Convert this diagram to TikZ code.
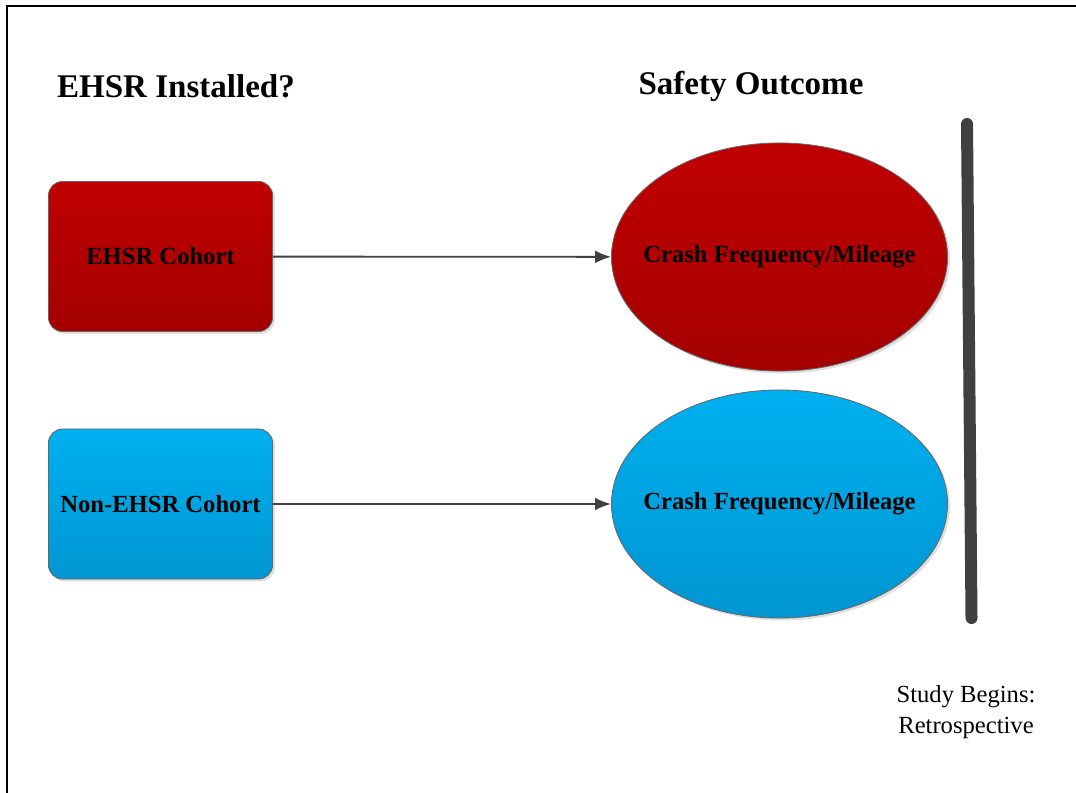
\documentclass[tikz,border=0pt]{standalone}
\usepackage{fontspec}
\setmainfont{Liberation Serif}
\usepackage{tikz}
\usetikzlibrary{shapes, arrows.meta, positioning, shadows}
\definecolor{cohortred}{HTML}{C00000}
\definecolor{cohortreddark}{HTML}{A40000}
\definecolor{cohortblue}{HTML}{00B0F0}
\definecolor{cohortbluedark}{HTML}{0096D2}
\definecolor{edgegray}{HTML}{404040}
\tikzstyle{cohort} = [draw=edgegray!80, line width=0.6pt, rectangle, rounded corners=0.35cm, minimum width=5.6cm, minimum height=3.75cm, font=\fontsize{17.5}{21}\selectfont\bfseries, drop shadow={opacity=0.25, shadow xshift=0.06cm, shadow yshift=-0.06cm}]
\tikzstyle{outcome} = [draw=edgegray!80, line width=0.6pt, ellipse, inner sep=0pt, minimum width=8.4cm, minimum height=5.7cm, font=\fontsize{17.5}{21}\selectfont\bfseries, drop shadow={opacity=0.25, shadow xshift=0.06cm, shadow yshift=-0.06cm}]
\tikzstyle{heading} = [font=\fontsize{23.5}{28}\selectfont\bfseries]
\tikzstyle{redfill} = [top color=cohortred, bottom color=cohortreddark]
\tikzstyle{bluefill} = [top color=cohortblue, bottom color=cohortbluedark]
\newcommand{\crashtext}{\makebox[0pt]{Crash Frequency/Mileage}}

\begin{document}
\begin{tikzpicture}[x=0.025cm, y=-0.025cm, >={Latex[length=0.4cm, width=0.32cm]}]
    \useasboundingbox (0,0) rectangle (1076,793);
    % frame
    \draw [line width=1.5pt] (7,793) -- (7,6) -- (1076,6);
    % headings
    \node [heading] (installed) at (176,86) {EHSR Installed?};
    \node [heading] (safety) at (751,86) {Safety Outcome};
    % cohorts and outcomes
    \node [cohort, redfill] (ehsr) at (160.5,256.5) {EHSR Cohort};
    \node [cohort, bluefill] (nonehsr) at (160.5,504) {Non-EHSR Cohort};
    \node [outcome, redfill] (crashred) at (779.5,257) {\crashtext};
    \node [outcome, bluefill] (crashblue) at (779.5,504) {\crashtext};
    \draw [->, draw=edgegray, line width=1.3pt] (ehsr) -- (crashred);
    \draw [->, draw=edgegray, line width=1.3pt] (nonehsr) -- (crashblue);
    % time bar
    \coordinate (bartop) at (967,124);
    \coordinate (barbottom) at (971.5,618);
    \draw [edgegray, line width=0.3cm, line cap=round] (bartop) -- (barbottom);
    \node [align=center, font=\fontsize{17.5}{21.5}\selectfont] (begins) at (966,712) {Study Begins:\\Retrospective};
\end{tikzpicture}
\end{document}
